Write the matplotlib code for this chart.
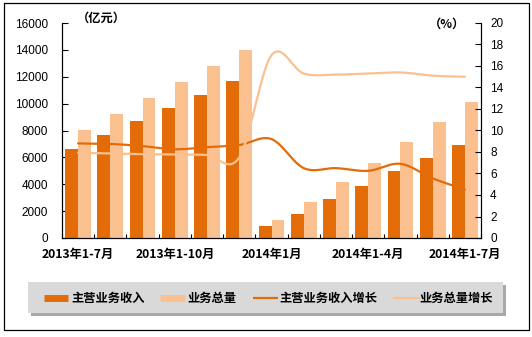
import numpy as np
import matplotlib.pyplot as plt
from matplotlib.lines import Line2D
from matplotlib.patches import Rectangle

plt.rcParams['font.family'] = ['Noto Sans CJK SC', 'DejaVu Sans']

months = ['2013年1-7月', '2013年1-8月', '2013年1-9月', '2013年1-10月', '2013年1-11月',
          '2013年1-12月', '2014年1月', '2014年1-2月', '2014年1-3月', '2014年1-4月',
          '2014年1-5月', '2014年1-6月', '2014年1-7月']
revenue = [6620, 7660, 8700, 9670, 10640, 11680, 890, 1810, 2900, 3870, 4990, 5950, 6920]
volume = [8030, 9220, 10420, 11600, 12800, 13990, 1340, 2680, 4170, 5580, 7140, 8630, 10120]
revenue_growth = [8.8, 8.75, 8.55, 8.25, 8.45, 8.65, 9.2, 6.5, 6.5, 6.25, 6.9, 5.55, 4.5]
volume_growth = [7.93, 7.87, 7.8, 7.78, 7.72, 7.5, 17.0, 15.3, 15.2, 15.3, 15.4, 15.1, 15.0]
legend_labels = ['主营业务收入', '业务总量', '主营业务收入增长', '业务总量增长']

DARK = '#E36C09'
LIGHT = '#FAC08F'
W, H = 532, 337


def smooth(y, steps=24):
    # catmull-rom through the points, like excel's smoothed line
    y = np.asarray(y, float)
    p = np.concatenate([[2 * y[0] - y[1]], y, [2 * y[-1] - y[-2]]])
    xs, ys = [], []
    t = np.linspace(0, 1, steps, endpoint=False)
    for i in range(len(y) - 1):
        p0, p1, p2, p3 = p[i:i + 4]
        m1, m2 = (p2 - p0) / 2, (p3 - p1) / 2
        h = ((2 * t**3 - 3 * t**2 + 1) * p1 + (t**3 - 2 * t**2 + t) * m1
             + (-2 * t**3 + 3 * t**2) * p2 + (t**3 - t**2) * m2)
        xs.append(i + t)
        ys.append(h)
    xs.append([len(y) - 1])
    ys.append([y[-1]])
    return np.concatenate(xs), np.concatenate(ys)


def fx(px):
    return px / W


def fy(py):
    return 1 - py / H


fig = plt.figure(figsize=(W / 100, H / 100), dpi=100)
ax = fig.add_axes([fx(62), fy(238), fx(481) - fx(62), fy(23) - fy(238)])
ax2 = ax.twinx()

x = np.arange(len(months))
ax.bar(x - 0.2, revenue, width=0.4, color=DARK, zorder=2)
ax.bar(x + 0.2, volume, width=0.4, color=LIGHT, zorder=2)

sx, sy = smooth(revenue_growth)
ax2.plot(sx, sy, color=DARK, lw=1.6, solid_capstyle='round')
sx, sy = smooth(volume_growth)
ax2.plot(sx, sy, color=LIGHT, lw=1.6, solid_capstyle='round')

ax.set_xlim(-0.5, len(months) - 0.5)
ax.set_ylim(0, 16000)
ax.set_yticks(np.arange(0, 16001, 2000))
ax2.set_ylim(0, 20)
ax2.set_yticks(np.arange(0, 21, 2))

ax.set_xticks(x[::3])
ax.set_xticklabels([months[i] for i in x[::3]], fontsize=8.8, fontweight='bold')
ax.set_xticks(np.arange(-0.5, len(months), 1), minor=True)
ax.tick_params(axis='x', which='major', length=0, pad=7.5)
ax.tick_params(axis='x', which='minor', length=3, direction='in', width=0.8)
ax.tick_params(axis='y', direction='in', length=4, width=0.8, pad=10)
ax2.tick_params(axis='y', direction='in', length=4, width=0.8, pad=6.5)
for lab in ax.get_yticklabels() + ax2.get_yticklabels():
    lab.set_family('Liberation Sans')
    lab.set_fontsize(8.5)

for a in (ax, ax2):
    a.spines['top'].set_visible(False)
    for s in a.spines.values():
        s.set_linewidth(0.8)

fig.text(fx(101), fy(18), '（亿元）', fontsize=8.8, fontweight='bold', ha='center', va='center')
fig.text(fx(447), fy(24), '（%）', fontsize=8.8, fontweight='bold', ha='center', va='center')

# outer frame
fig.add_artist(Rectangle((fx(4), fy(330)), fx(525), fy(3) - fy(330), transform=fig.transFigure,
                         fill=False, edgecolor='black', lw=0.9))

# legend box with shadow
fig.add_artist(Rectangle((fx(31), fy(316)), fx(475), fy(282) - fy(313), transform=fig.transFigure,
                         facecolor='#a8a8a8', edgecolor='none'))
fig.add_artist(Rectangle((fx(28), fy(313)), fx(475), fy(282) - fy(313), transform=fig.transFigure,
                         facecolor='#d9d9d9', edgecolor='none'))

ly = fy(298)
handles = [(44, 68, DARK, 5), (160, 185, LIGHT, 5), (253, 278, DARK, 1.6), (393, 420, LIGHT, 1.6)]
text_x = [71, 187, 279, 419]
for (x0, x1, c, lw), tx, lab in zip(handles, text_x, legend_labels):
    fig.add_artist(Line2D([fx(x0), fx(x1)], [ly, ly], transform=fig.transFigure,
                          color=c, lw=lw, solid_capstyle='butt'))
    fig.text(fx(tx), ly, lab, fontsize=8.8, fontweight='bold', ha='left', va='center')

fig.savefig('out.png', dpi=100)
